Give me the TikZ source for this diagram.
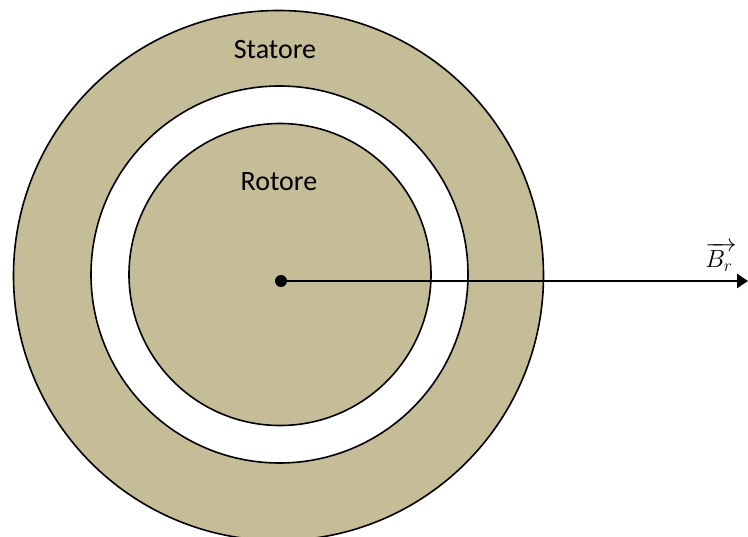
\documentclass[tikz,border=0pt]{standalone}
\usepackage{fontspec}
\setmainfont{Carlito}
\usetikzlibrary{arrows.meta}
\definecolor{tan}{HTML}{C4BD97}
\tikzset{
  ring/.style={circle, draw=black, line width=1.6pt, inner sep=0pt, outer sep=0pt},
  lbl/.style={font=\fontsize{28}{32}\selectfont, text=black},
}
\begin{document}
\begin{tikzpicture}[x=1pt,y=-1pt]
\useasboundingbox (0,0) rectangle (748,537);
\clip (0,0) rectangle (748,537);
\node[ring, fill=tan, minimum size=530pt] (stator) at (278.5,275.5) {};
\node[ring, fill=white, minimum size=377pt] (gap) at (279.5,274.5) {};
\node[ring, fill=tan, minimum size=302pt] (rotor) at (280,274.5) {};
\node[lbl] (statore) at (275,50) {Statore};
\node[lbl] (rotore) at (279,182) {Rotore};
\node[circle, fill=black, minimum size=12pt, inner sep=0pt] (o) at (281,281) {};
\coordinate (tip) at (748,281);
\draw[line width=2.7pt, -{Triangle[length=11pt,width=14pt]}] (o.center) -- (tip);
\node[font=\fontsize{24}{28}\selectfont, inner sep=1pt] (br) at (721,257) {$\overrightarrow{B_r\,}$};
\end{tikzpicture}
\end{document}
